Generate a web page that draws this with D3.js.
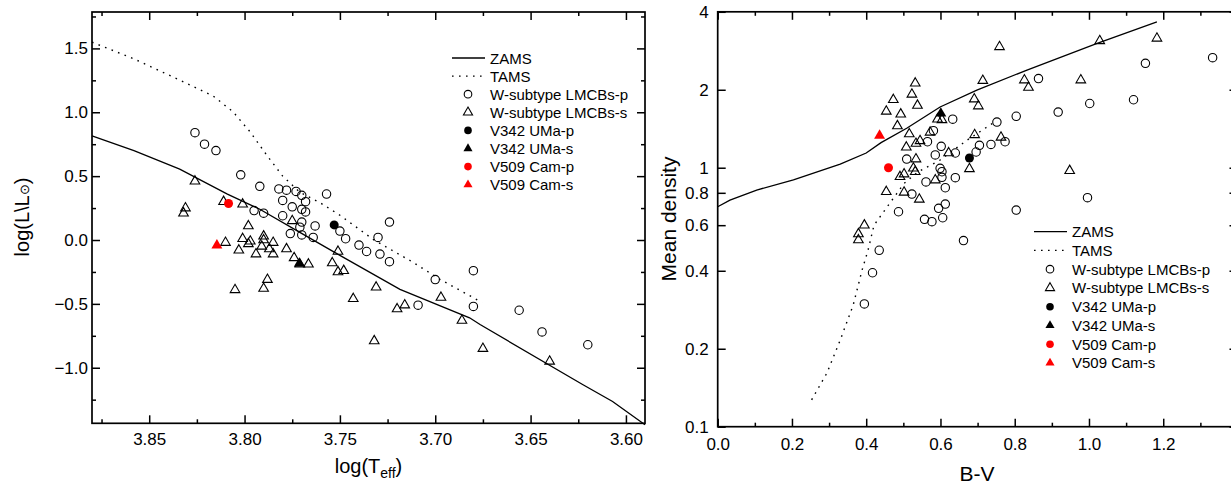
<!DOCTYPE html>
<html>
<head>
<meta charset="utf-8">
<script src="https://cdnjs.cloudflare.com/ajax/libs/d3/7.8.5/d3.min.js"></script>
<style>
body { margin: 0; background: #fff; }
text { font-family: "Liberation Sans", Arial, sans-serif; fill: #000; }
</style>
</head>
<body>
<svg id="chart"></svg>
<script>
var vWidth = 1231;
var vHeight = 489;

// ---- left panel: log(Teff) vs log(L/Lsun) ----
var hrZams = [[3.880,0.816],[3.858,0.699],[3.834,0.555],[3.809,0.359],[3.792,0.241],[3.771,0.06],
  [3.750,-0.12],[3.7185,-0.387],[3.682,-0.609],[3.6765,-0.662],[3.6225,-1.133],[3.607,-1.264],[3.590,-1.447]];
var hrTams = [[3.880,1.549],[3.858,1.418],[3.832,1.238],[3.8165,1.128],[3.806,1.003],[3.797,0.845],
  [3.788,0.657],[3.780,0.500],[3.771,0.374],[3.760,0.288],[3.750,0.194],[3.7326,0.005],[3.7116,-0.175],
  [3.6975,-0.308],[3.6755,-0.489]];
var hrCircles = [[3.826,0.84],[3.821,0.75],[3.815,0.70],[3.802,0.51],[3.792,0.42],[3.782,0.40],[3.778,0.39],
  [3.773,0.38],[3.770,0.35],[3.757,0.36],[3.780,0.31],[3.775,0.26],[3.768,0.30],[3.770,0.24],[3.768,0.22],
  [3.795,0.23],[3.790,0.21],[3.780,0.19],[3.770,0.14],[3.763,0.11],[3.771,0.10],[3.776,0.05],[3.770,0.04],
  [3.764,0.02],[3.750,0.07],[3.747,0.01],[3.740,-0.04],[3.736,-0.09],[3.730,0.02],[3.729,-0.11],[3.724,0.14],
  [3.724,-0.17],[3.680,-0.24],[3.700,-0.31],[3.709,-0.51],[3.680,-0.52],[3.656,-0.55],[3.644,-0.72],[3.620,-0.82]];
var hrTriangles = [[3.826,0.46],[3.831,0.25],[3.832,0.21],[3.811,0.30],[3.801,0.28],[3.798,0.11],[3.810,-0.02],
  [3.801,0.01],[3.797,-0.01],[3.803,-0.08],[3.798,-0.03],[3.790,0.03],[3.790,0.00],[3.785,-0.02],[3.791,-0.05],
  [3.787,-0.07],[3.794,-0.11],[3.785,-0.11],[3.778,-0.07],[3.775,0.15],[3.774,-0.14],[3.771,-0.19],[3.7665,-0.19],
  [3.751,-0.09],[3.754,-0.18],[3.751,-0.25],[3.748,-0.24],[3.788,-0.31],[3.790,-0.38],[3.805,-0.39],[3.731,-0.37],
  [3.743,-0.46],[3.720,-0.54],[3.716,-0.51],[3.697,-0.45],[3.732,-0.79],[3.686,-0.63],[3.675,-0.85],[3.640,-0.95]];
var hrV342 = [[3.753,0.118],[3.7713,-0.185]];   // primary, secondary
var hrV509 = [[3.8084,0.286],[3.8145,-0.042]];

// ---- right panel: B-V vs mean density ----
var dnZams = [[0.000,0.707],[0.033,0.750],[0.105,0.820],[0.204,0.897],[0.330,1.033],[0.400,1.14],[0.440,1.25],
  [0.509,1.420],[0.599,1.716],[0.698,1.995],[0.833,2.383],[1.022,3.02],[1.183,3.66]];
var dnTams = [[0.253,0.127],[0.294,0.161],[0.330,0.216],[0.365,0.295],[0.389,0.403],[0.405,0.481],[0.421,0.60],
  [0.464,0.731],[0.502,0.87],[0.539,0.962],[0.599,1.071],[0.672,1.279],[0.747,1.505]];
var dnCircles = [[1.333,2.66],[1.152,2.53],[1.120,1.83],[1.002,1.77],[0.917,1.64],[0.864,2.21],[0.804,1.58],
  [0.752,1.50],[0.633,1.54],[0.705,1.22],[0.736,1.23],[0.774,1.26],[0.696,1.15],[0.640,1.14],[0.602,1.21],
  [0.586,1.12],[0.640,0.915],[0.613,0.837],[0.613,0.724],[0.595,0.697],[0.606,0.641],[0.577,0.619],[0.557,0.632],
  [0.662,0.523],[0.804,0.686],[0.996,0.766],[0.581,1.39],[0.565,1.26],[0.509,1.08],[0.561,0.881],[0.604,0.965],
  [0.604,0.918],[0.599,0.995],[0.523,0.791],[0.487,0.676],[0.435,0.48],[0.417,0.393],[0.395,0.298]];
var dnTriangles = [[0.759,2.93],[1.029,3.09],[1.183,3.16],[0.714,2.17],[0.826,2.18],[0.837,2.04],[0.978,2.18],
  [0.691,1.84],[0.702,1.73],[0.592,1.54],[0.604,1.53],[0.692,1.34],[0.763,1.31],[0.622,1.14],[0.678,0.99],
  [0.948,0.974],[0.586,0.896],[0.532,2.12],[0.523,1.92],[0.473,1.83],[0.538,1.74],[0.454,1.65],[0.493,1.61],
  [0.484,1.45],[0.516,1.35],[0.545,1.27],[0.534,1.24],[0.508,1.20],[0.572,1.37],[0.534,1.08],[0.527,0.995],
  [0.491,0.923],[0.502,0.945],[0.532,0.965],[0.454,0.808],[0.502,0.803],[0.543,0.755],[0.395,0.60],[0.379,0.555],
  [0.379,0.526]];
var dnV342 = [[0.678,1.09],[0.601,1.62]];
var dnV509 = [[0.460,1.00],[0.436,1.33]];

var legendNames = ["ZAMS", "TAMS", "W-subtype LMCBs-p", "W-subtype LMCBs-s",
  "V342 UMa-p", "V342 UMa-s", "V509 Cam-p", "V509 Cam-s"];
var hrXTicks = [3.85, 3.80, 3.75, 3.70, 3.65, 3.60];
var hrXMinor = [3.875, 3.825, 3.775, 3.725, 3.675, 3.625];
var hrYTicks = [-1.0, -0.5, 0.0, 0.5, 1.0, 1.5];
var hrYMinor = [-1.25, -0.75, -0.25, 0.25, 0.75, 1.25, 1.75];
var dnXTicks = [0.0, 0.2, 0.4, 0.6, 0.8, 1.0, 1.2];
var dnXMinor = [0.1, 0.3, 0.5, 0.7, 0.9, 1.1, 1.3];
var dnYTicks = [0.1, 0.2, 0.4, 0.6, 0.8, 1, 2, 4];

var svg = d3.select('#chart')
  .attr('width', vWidth)
  .attr('height', vHeight);

var triSym = d3.symbol().type(d3.symbolTriangle).size(40);

// draws one framed panel with inward ticks on all sides
function drawPanel(x, y, o) {
  var g = svg.append('g');
  var x0 = x.range()[0], x1 = x.range()[1], y0 = y.range()[0], y1 = y.range()[1];

  function addAxis(axis, tx, ty, vals, len, labels, pad) {
    var a = axis.tickValues(vals).tickSize(-len).tickSizeOuter(0).tickPadding(pad);
    if (!labels) a.tickFormat('');
    var s = g.append('g').attr('transform', 'translate(' + tx + ',' + ty + ')').call(a);
    s.select('.domain').remove();
    s.selectAll('line').attr('stroke', '#000').attr('stroke-width', 1.5);
    s.selectAll('text').style('font-size', '17px').attr('fill', '#000');
    return s;
  }
  addAxis(d3.axisBottom(x).tickFormat(o.xfmt), 0, y0, o.xt, 8, true, o.xpad);
  addAxis(d3.axisBottom(x), 0, y0, o.xm, 4, false, 0);
  addAxis(d3.axisTop(x), 0, y1, o.xt, 8, false, 0);
  addAxis(d3.axisTop(x), 0, y1, o.xm, 4, false, 0);
  addAxis(d3.axisLeft(y).tickFormat(o.yfmt), x0, 0, o.yt, 8, true, o.ypad);
  addAxis(d3.axisRight(y), x1, 0, o.yt, 8, false, 0);
  if (o.ym) {
    addAxis(d3.axisLeft(y), x0, 0, o.ym, 4, false, 0);
    addAxis(d3.axisRight(y), x1, 0, o.ym, 4, false, 0);
  }

  g.append('rect')
    .attr('x', x0).attr('y', y1)
    .attr('width', x1 - x0).attr('height', y0 - y1)
    .attr('fill', 'none').attr('stroke', '#000').attr('stroke-width', 1.7);

  var line = d3.line()
    .x(function (d) { return x(d[0]); })
    .y(function (d) { return y(d[1]); });

  g.append('path').datum(o.tams).attr('d', line)
    .attr('fill', 'none').attr('stroke', '#000').attr('stroke-width', 1.4)
    .attr('stroke-dasharray', '1.6,5.4');
  g.append('path').datum(o.zams).attr('d', line)
    .attr('fill', 'none').attr('stroke', '#000').attr('stroke-width', 1.3);

  g.selectAll('circle.wp').data(o.circ).enter().append('circle')
    .attr('cx', function (d) { return x(d[0]); })
    .attr('cy', function (d) { return y(d[1]); })
    .attr('r', 4.2)
    .attr('fill', 'none').attr('stroke', '#000').attr('stroke-width', 1.1);
  g.selectAll('path.ws').data(o.tri).enter().append('path')
    .attr('d', triSym)
    .attr('transform', function (d) { return 'translate(' + x(d[0]) + ',' + y(d[1]) + ')'; })
    .attr('fill', 'none').attr('stroke', '#000').attr('stroke-width', 1.1);

  // the two named systems: [primary, secondary]
  [[o.v342, '#000'], [o.v509, '#ff0000']].forEach(function (s) {
    var p = s[0][0], q = s[0][1];
    g.append('circle').attr('cx', x(p[0])).attr('cy', y(p[1])).attr('r', 4.5).attr('fill', s[1]);
    g.append('path').attr('d', d3.symbol().type(d3.symbolTriangle).size(52)())
      .attr('transform', 'translate(' + x(q[0]) + ',' + y(q[1]) + ')').attr('fill', s[1]);
  });

  // legend
  var lg = svg.append('g').attr('transform', 'translate(' + o.leg[0] + ',' + o.leg[1] + ')');
  legendNames.forEach(function (name, i) {
    var ry = i * o.leg[2];
    if (i < 2) {
      lg.append('line').attr('x1', 0).attr('x2', 33).attr('y1', ry).attr('y2', ry)
        .attr('stroke', '#000').attr('stroke-width', 1.3)
        .attr('stroke-dasharray', i == 1 ? '1.6,5.4' : null);
    } else {
      var col = i < 4 ? 'none' : (i < 6 ? '#000' : '#ff0000');
      if (i % 2 == 0) {
        lg.append('circle').attr('cx', 16).attr('cy', ry).attr('r', 3.8)
          .attr('fill', col).attr('stroke', i < 4 ? '#000' : 'none').attr('stroke-width', 1.1);
      } else {
        lg.append('path').attr('d', d3.symbol().type(d3.symbolTriangle).size(36)())
          .attr('transform', 'translate(16,' + ry + ')')
          .attr('fill', col).attr('stroke', i < 4 ? '#000' : 'none').attr('stroke-width', 1.1);
      }
    }
    lg.append('text').attr('x', 38).attr('y', ry + 5.5).style('font-size', '15px').text(name);
  });
  return g;
}

// left panel
var hrX = d3.scaleLinear().domain([3.88, 3.59]).range([92, 645]);
var hrY = d3.scaleLinear().domain([-1.435, 1.785]).range([423.3, 12]);
drawPanel(hrX, hrY, {
  xt: hrXTicks, xm: hrXMinor, yt: hrYTicks, ym: hrYMinor,
  xfmt: d3.format('.2f'), yfmt: d3.format('.1f'), xpad: 10, ypad: 4,
  zams: hrZams, tams: hrTams, circ: hrCircles, tri: hrTriangles, v342: hrV342, v509: hrV509,
  leg: [452, 58, 18.1]
});

// right panel
var dnX = d3.scaleLinear().domain([0, 1.4]).range([717.7, 1237.5]);
var dnY = d3.scaleLog().domain([0.1, 4]).range([426.7, 11.8]);
drawPanel(dnX, dnY, {
  xt: dnXTicks, xm: dnXMinor, yt: dnYTicks, ym: null,
  xfmt: d3.format('.1f'), yfmt: function (d) { return String(d); }, xpad: 11, ypad: 9,
  zams: dnZams, tams: dnTams, circ: dnCircles, tri: dnTriangles, v342: dnV342, v509: dnV509,
  leg: [1034, 231.7, 18.75]
});

// axis titles
var xlab = svg.append('text')
  .attr('x', 368.5).attr('y', 473)
  .attr('text-anchor', 'middle').style('font-size', '20px')
  .text('log(T');
xlab.append('tspan').attr('dy', 5).style('font-size', '14px').text('eff');
xlab.append('tspan').attr('dy', -5).text(')');

var ylab = svg.append('text')
  .attr('transform', 'translate(29,217) rotate(-90)')
  .attr('text-anchor', 'middle').style('font-size', '20px')
  .text('log(L\\L');
ylab.append('tspan').style('font-size', '13px').text('\u2299');
ylab.append('tspan').text(')');

svg.append('text')
  .attr('x', 977).attr('y', 481)
  .attr('text-anchor', 'middle').style('font-size', '21px')
  .text('B-V');

svg.append('text')
  .attr('transform', 'translate(676,219) rotate(-90)')
  .attr('text-anchor', 'middle').style('font-size', '21px')
  .text('Mean density');
</script>
</body>
</html>
